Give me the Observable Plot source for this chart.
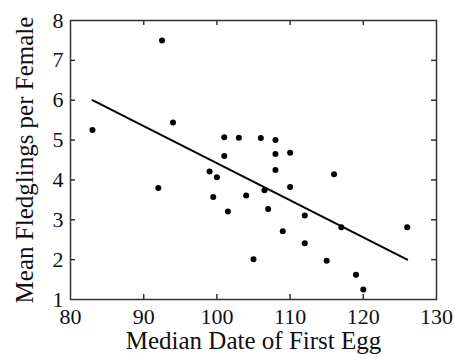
<!DOCTYPE html>
<html>
<head>
<meta charset="utf-8">
<script src="https://cdn.jsdelivr.net/npm/d3@7"></script>
<script src="https://cdn.jsdelivr.net/npm/@observablehq/plot@0.6"></script>
<style>
  html, body { margin: 0; padding: 0; background: #fff; }
  #chart svg text { font-family: "Liberation Serif", "Times New Roman", serif !important; }
</style>
</head>
<body>
<div id="chart"></div>
<script>
// Data
const medianDate = [83, 92, 92.5, 94, 99, 99.5, 100, 101, 101, 101.5, 103, 104, 105, 106, 106.5, 107, 108, 108, 108, 109, 110, 110, 112, 112, 115, 116, 117, 119, 120, 126];
const fledglings = [5.25, 3.8, 7.5, 5.44, 4.21, 3.57, 4.07, 5.07, 4.6, 3.21, 5.06, 3.61, 2.01, 5.05, 3.74, 3.27, 5.0, 4.65, 4.25, 2.71, 4.68, 3.82, 3.11, 2.41, 1.97, 4.14, 2.81, 1.62, 1.25, 2.81];
const fitX = [83, 126];
const fitY = [6.0, 2.0];
const xTicks = [80, 90, 100, 110, 120, 130];
const yTicks = [1, 2, 3, 4, 5, 6, 7, 8];
const xTitle = "Median Date of First Egg";
const yTitle = "Mean Fledglings per Female";

const points = medianDate.map((x, i) => ({x, y: fledglings[i]}));
const fit = fitX.map((x, i) => ({x, y: fitY[i]}));

const W = 455, H = 358;
const mL = 70, mR = 19, mT = 20, mB = 59;
const innerW = W - mL - mR, innerH = H - mT - mB;
const tickLen = 5;
const innerX = xTicks.slice(1, -1);
const innerY = yTicks.slice(1, -1);
const ink = "#333";
const serif = "Liberation Serif";
const textInk = "#111";

const chart = Plot.plot({
  width: W,
  height: H,
  marginLeft: mL,
  marginRight: mR,
  marginTop: mT,
  marginBottom: mB,
  style: {fontFamily: serif, fontSize: "22px", color: textInk, background: "#fff"},
  x: {domain: [80, 130], axis: null},
  y: {domain: [1, 8], axis: null},
  marks: [
    Plot.text(xTicks, {x: d => d, text: d => String(d), frameAnchor: "bottom", lineAnchor: "top", textAnchor: "middle", dy: 9, fontSize: 22, fill: textInk}),
    Plot.text(yTicks, {y: d => d, text: d => String(d), frameAnchor: "left", lineAnchor: "middle", textAnchor: "end", dx: -7, fontSize: 22, fill: textInk}),
    Plot.tickX(innerX, {x: d => d, insetTop: innerH - tickLen, stroke: ink, strokeWidth: 1.5}),
    Plot.tickX(innerX, {x: d => d, insetBottom: innerH - tickLen, stroke: ink, strokeWidth: 1.5}),
    Plot.tickY(innerY, {y: d => d, insetRight: innerW - tickLen, stroke: ink, strokeWidth: 1.5}),
    Plot.tickY(innerY, {y: d => d, insetLeft: innerW - tickLen, stroke: ink, strokeWidth: 1.5}),
    Plot.frame({stroke: ink, strokeWidth: 1.5}),
    Plot.line(fit, {x: "x", y: "y", stroke: "#000", strokeWidth: 2}),
    Plot.dot(points, {x: "x", y: "y", r: 3, fill: "#000", stroke: null}),
    Plot.text([xTitle], {text: d => d, frameAnchor: "bottom", lineAnchor: "middle", textAnchor: "middle", dy: 41, fontSize: 25, fill: textInk}),
    Plot.text([yTitle], {text: d => d, frameAnchor: "left", lineAnchor: "middle", textAnchor: "middle", rotate: -90, dx: -46, fontSize: 25, fill: textInk})
  ]
});
document.getElementById("chart").appendChild(chart);
</script>
</body>
</html>
